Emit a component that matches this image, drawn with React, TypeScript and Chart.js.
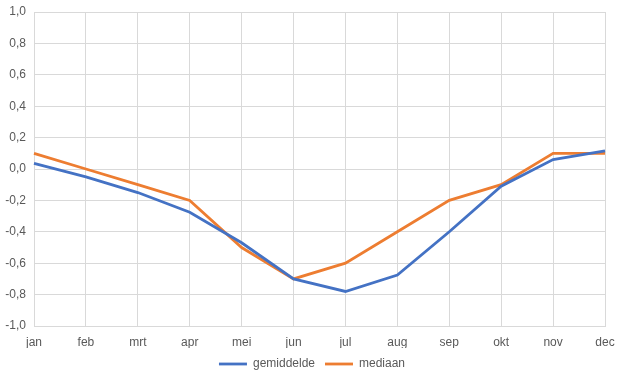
import React, { useEffect, useRef } from "react";
import { Chart, registerables } from "chart.js";

Chart.register(...registerables);

const months = ["jan", "feb", "mrt", "apr", "mei", "jun", "jul", "aug", "sep", "okt", "nov", "dec"];
const gemiddelde = [0.036, -0.05, -0.15, -0.275, -0.47, -0.7, -0.78, -0.675, -0.4, -0.11, 0.06, 0.115];
const mediaan = [0.1, 0.0, -0.1, -0.2, -0.5, -0.7, -0.6, -0.4, -0.2, -0.1, 0.1, 0.1];

const FONT = "'Liberation Sans', Arial, sans-serif";
const TEXT = "#595959";
const GRID = "#d9d9d9";

export default function App() {
  const ref = useRef<HTMLCanvasElement>(null);
  useEffect(() => {
    const chart = new Chart(ref.current!, {
      type: "line",
      data: {
        labels: months,
        datasets: [
          { label: "gemiddelde", data: gemiddelde, borderColor: "#4472C4", backgroundColor: "#4472C4", borderWidth: 2.8, pointRadius: 0, tension: 0 },
          { label: "mediaan", data: mediaan, borderColor: "#ED7D31", backgroundColor: "#ED7D31", borderWidth: 2.8, pointRadius: 0, tension: 0 },
        ],
      },
      options: {
        animation: false,
        responsive: false,
        maintainAspectRatio: false,
        layout: { padding: { top: 12, right: 0, left: 0, bottom: 2 } },
        scales: {
          x: {
            offset: false,
            grid: { color: GRID, drawTicks: false },
            border: { color: GRID },
            ticks: { color: TEXT, font: { family: FONT, size: 12 }, padding: 9, maxRotation: 0, autoSkip: false },
            afterFit: (s: any) => { s.paddingLeft = 0; s.paddingRight = 0; s.height = 22; },
          },
          y: {
            min: -1,
            max: 1,
            grid: { color: GRID, drawTicks: false },
            border: { color: GRID },
            ticks: {
              stepSize: 0.2,
              color: TEXT,
              font: { family: FONT, size: 12 },
              padding: 8,
              callback: (v: any) => Number(v).toFixed(1).replace(".", ","),
            },
            afterFit: (s: any) => { s.width = 34; s.paddingTop = 0; s.paddingBottom = 0; },
          },
          spacer: {
            type: "linear",
            position: "right",
            min: -1,
            max: 1,
            grid: { display: false, drawTicks: false },
            border: { display: false },
            ticks: { display: false },
            afterFit: (s: any) => { s.width = 19; s.paddingTop = 0; s.paddingBottom = 0; },
          },
        },
        plugins: {
          legend: {
            position: "bottom",
            labels: {
              color: TEXT,
              font: { family: FONT, size: 12 },
              usePointStyle: true,
              pointStyle: "line",
              pointStyleWidth: 28,
              padding: 10,
            },
          },
          tooltip: { enabled: false },
        },
      },
    });
    return () => chart.destroy();
  }, []);
  return (
    <div style={{ position: "fixed", left: 0, top: 0, width: 624, height: 382, background: "#fff" }}>
      <canvas ref={ref} width={624} height={382} />
    </div>
  );
}
